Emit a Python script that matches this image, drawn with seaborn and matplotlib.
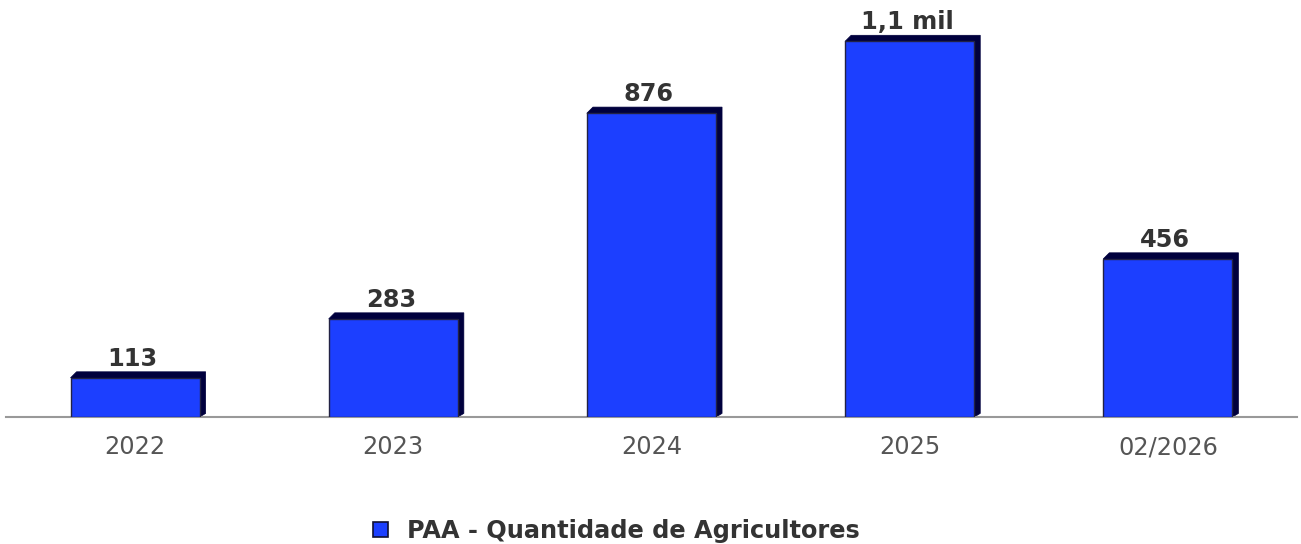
import numpy as np
import pandas as pd
import matplotlib
matplotlib.use("Agg")
import matplotlib.pyplot as plt
from matplotlib.patches import Polygon, Patch
import seaborn as sns

# data
periods = ["2022", "2023", "2024", "2025", "02/2026"]
farmers = [113, 283, 876, 1083, 456]
value_labels = ["113", "283", "876", "1,1 mil", "456"]
series_name = "PAA - Quantidade de Agricultores"

FRONT = "#1c3fff"
SIDE = "#00003d"

sns.set_theme(style="white")
plt.rcParams["font.family"] = ["DejaVu Sans"]

df = pd.DataFrame({"periodo": periods, "qtd": farmers})

fig = plt.figure(figsize=(13.01, 5.44), dpi=100)
ax = fig.add_axes([6 / 1301, 127 / 544, 1291 / 1301, 417 / 544])

sns.barplot(data=df, x="periodo", y="qtd", color=FRONT, saturation=1,
            width=0.5, edgecolor="#222244", linewidth=1, ax=ax, zorder=3)

ax.set_xlim(-0.5, 4.5)
ax.set_ylim(0, 1202)

# fake 3D depth: top and right faces in dark navy
dx = 6 / 258.2
dy = 6 * 1202 / 417
for bar in ax.patches:
    x0 = bar.get_x()
    x1 = x0 + bar.get_width()
    h = bar.get_height()
    poly = Polygon([(x0, h), (x0 + dx, h + dy), (x1 + dx, h + dy),
                    (x1 + dx, dy * 0.6), (x1, 0)],
                   closed=True, facecolor=SIDE, edgecolor=SIDE,
                   linewidth=0.5, zorder=2)
    ax.add_patch(poly)

for i, (v, lab) in enumerate(zip(farmers, value_labels)):
    ax.text(i - 0.01, v + dy + 3, lab, ha="center", va="bottom",
            fontsize=17.3, fontweight="bold", color="#333333", zorder=4)

for side in ["top", "left", "right"]:
    ax.spines[side].set_visible(False)
ax.spines["bottom"].set_color("#999999")
ax.spines["bottom"].set_linewidth(1.5)
ax.set_yticks([])
ax.set_xlabel("")
ax.set_ylabel("")
ax.tick_params(axis="x", length=0, pad=13, labelsize=17.3, labelcolor="#555555")

handle = Patch(facecolor=FRONT, edgecolor="#111133", linewidth=1.2)
fig.legend([handle], [series_name], loc="center", bbox_to_anchor=(0.474, 1 - 531 / 544),
           frameon=False, prop={"size": 17.3, "weight": "bold"},
           handlelength=0.6, handleheight=0.6, handletextpad=0.8,
           labelcolor="#333333")

fig.savefig("out.png", dpi=100)
